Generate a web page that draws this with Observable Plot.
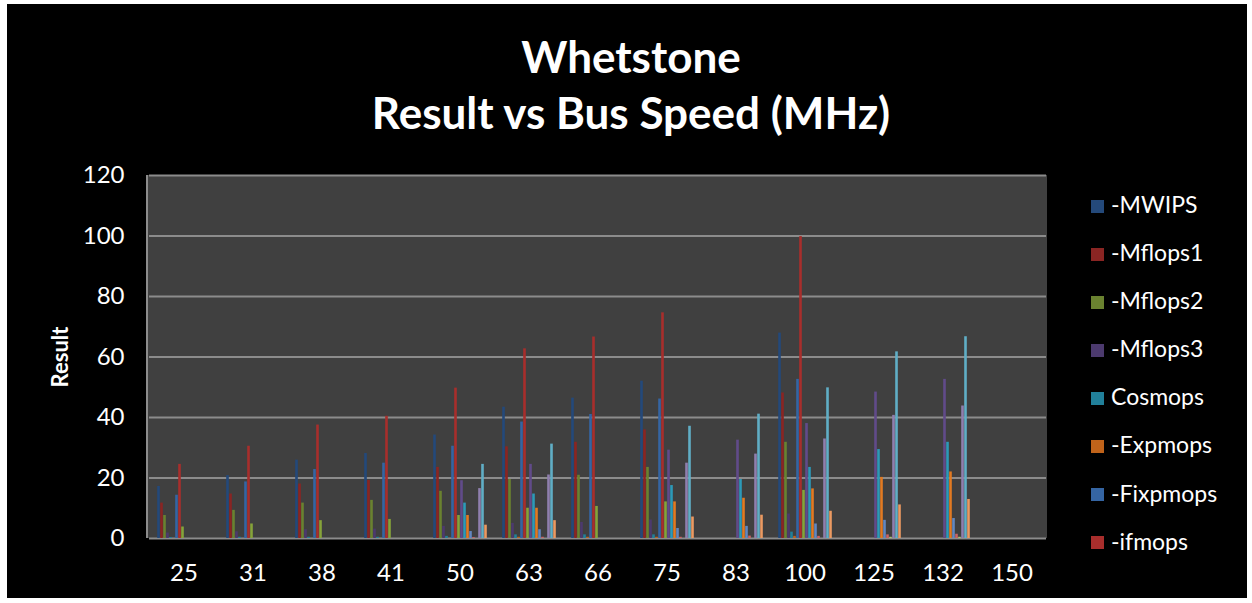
<!DOCTYPE html>
<html><head><meta charset="utf-8">
<script src="https://cdn.jsdelivr.net/npm/d3@7"></script>
<script src="https://cdn.jsdelivr.net/npm/@observablehq/plot@0.6"></script>
<style>
html,body{margin:0;padding:0;background:#fff;}
#chart{position:relative;width:1252px;height:603px;background:#fff;font-family:Lato,"Open Sans",sans-serif;overflow:hidden}
#bg{position:absolute;left:7px;top:4px;width:1240px;height:594px;background:#000}
#plotbg{position:absolute;left:146px;top:175px;width:901px;height:363px;background:#404040;border-left:2px solid #8c8c8c;box-sizing:border-box}
#title{position:absolute;left:131px;width:1000px;top:28px;text-align:center;color:#fff;font-weight:bold;font-size:44px;line-height:56px}
#legend{position:absolute;left:1091px;top:180px;color:#fff;font-size:23px}
#legend .row{height:48.1px;line-height:48px;white-space:nowrap}
#legend .sw{display:inline-block;width:13px;height:13px;margin-right:7px;position:relative;top:-1px;vertical-align:middle}
#chart svg{position:absolute;left:0;top:0}
</style>
</head><body>
<div id="chart">
  <div id="bg"></div>
  <div id="plotbg"></div>
  <div id="title">Whetstone<br>Result vs Bus Speed (MHz)</div>
  <div id="legend"></div>
</div>
<script>
const categories = ["25","31","38","41","50","63","66","75","83","100","125","132","150"];
const seriesNames = ["-MWIPS","-Mflops1","-Mflops2","-Mflops3","Cosmops","-Expmops","-Fixpmops","-ifmops",
  "Series9","Series10","Series11","Series12","Series13","Series14","Series15","Series16","Series17","Series18"];
const seriesColors = ["#24497a","#8a2523","#6a8230","#4c3a6e","#21809a","#c0631a",
  "#3565a3","#a82e2c","#86a33a","#614b8a","#2c9ab8","#e27a22",
  "#6388c0","#c96464","#a9c46a","#8f7fae","#60aec6","#eb9a62"];
const legendCount = 8;
const yTicks = [0,20,40,60,80,100,120];

const s1  = [17.2, 20.8, 25.9, 28.1, 34.2, 43.4, 46.4, 52.0, 0, 67.9, 0, 0, 0];
const s2  = [11.7, 14.7, 18.0, 19.2, 23.5, 30.3, 31.8, 35.9, 0, 48.1, 0, 0, 0];
const s3  = [7.6, 9.3, 11.7, 12.6, 15.6, 19.5, 20.9, 23.5, 0, 31.8, 0, 0, 0];
const s4  = [1.8, 2.2, 2.9, 3.1, 4.0, 5.0, 5.3, 6.1, 0, 8.1, 0, 0, 0];
const s5  = [0.3, 0.4, 0.4, 0.4, 0.7, 1.2, 1.2, 1.2, 0, 2.1, 0, 0, 0];
const s6  = [0, 0, 0, 0, 0, 0.4, 0.4, 0.4, 0, 0.7, 0, 0, 0];
const s7  = [14.3, 18.7, 22.8, 24.9, 30.5, 38.5, 41.0, 46.1, 0, 52.6, 0, 0, 0];
const s8  = [24.5, 30.5, 37.5, 40.4, 49.7, 62.7, 66.6, 74.6, 0, 99.8, 0, 0, 0];
const s9  = [3.8, 4.8, 5.9, 6.3, 7.6, 10.0, 10.6, 12.1, 0, 15.9, 0, 0, 0];
const s10 = [0, 0, 0, 0, 19.1, 24.5, 0, 29.2, 32.5, 38.0, 48.4, 52.6, 0];
const s11 = [0, 0, 0, 0, 11.7, 14.7, 0, 17.5, 19.5, 23.5, 29.4, 31.8, 0];
const s12 = [0, 0, 0, 0, 7.6, 10.0, 0, 12.1, 13.3, 16.4, 20.2, 22.0, 0];
const s13 = [0, 0, 0, 0, 2.3, 2.9, 0, 3.3, 4.0, 4.8, 6.0, 6.6, 0];
const s14 = [0, 0, 0, 0, 0.3, 0.4, 0, 0.4, 0.8, 0.7, 1.2, 1.4, 0];
const s15 = [0, 0, 0, 0, 0, 0, 0, 0, 0, 0, 0.4, 0.4, 0];
const s16 = [0, 0, 0, 0, 16.5, 21.0, 0, 24.9, 27.9, 32.9, 40.7, 43.8, 0];
const s17 = [0, 0, 0, 0, 24.5, 31.2, 0, 37.1, 41.1, 49.8, 61.7, 66.7, 0];
const s18 = [0, 0, 0, 0, 4.4, 5.9, 0, 7.1, 7.7, 9.0, 11.1, 12.9, 0];
const seriesValues = [s1,s2,s3,s4,s5,s6,s7,s8,s9,s10,s11,s12,s13,s14,s15,s16,s17,s18];

const data = seriesValues.flatMap((vals, si) =>
  vals.map((v, ci) => ({category: categories[ci], series: seriesNames[si], value: v})));

const chart = Plot.plot({
  width: 1252, height: 603,
  marginLeft: 147, marginRight: 205, marginTop: 175, marginBottom: 65,
  style: {background: "transparent", color: "#fff", fontFamily: "Lato, 'Open Sans', sans-serif"},
  fx: {domain: categories, paddingInner: 0, paddingOuter: 0, label: null},
  x: {domain: seriesNames, paddingInner: 0, paddingOuter: 0.75, axis: null},
  y: {domain: [0, 120]},
  color: {domain: seriesNames, range: seriesColors},
  marks: [
    Plot.gridY(yTicks, {stroke: "#8c8c8c", strokeOpacity: 1, strokeWidth: 2}),
    Plot.barY(data, {fx: "category", x: "series", y: "value", fill: "series", insetLeft: 0.2, insetRight: 0.2}),
    Plot.axisY(yTicks, {tickSize: 0, tickPadding: 25, fontSize: 24, label: null, fill: "#fff"}),
    Plot.axisY([], {tickSize: 0, label: "Result", labelAnchor: "center", labelOffset: 97, fontSize: 22, fontWeight: "bold", fill: "#fff", labelArrow: "none"}),
    Plot.axisFx({anchor: "bottom", tickSize: 0, tickPadding: 25, fontSize: 24, label: null, fill: "#fff"})
  ]
});
document.getElementById("chart").appendChild(chart);

const legend = document.getElementById("legend");
seriesNames.slice(0, legendCount).forEach((name, i) => {
  const row = document.createElement("div");
  row.className = "row";
  const sw = document.createElement("span");
  sw.className = "sw";
  sw.style.background = seriesColors[i];
  row.appendChild(sw);
  row.appendChild(document.createTextNode(name));
  legend.appendChild(row);
});
</script>
</body></html>
